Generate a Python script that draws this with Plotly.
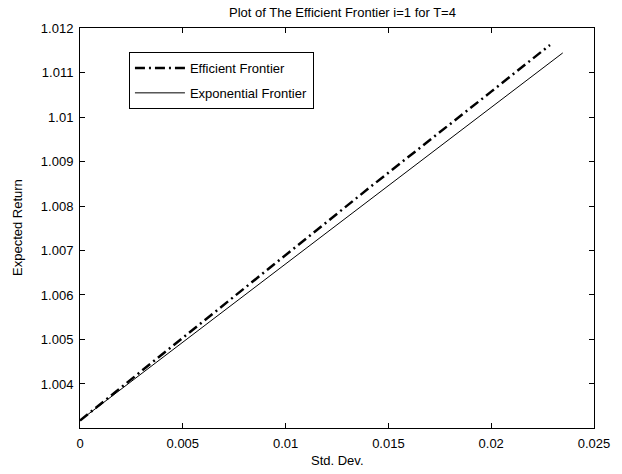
import plotly.graph_objects as go

# Data
eff_x = [0.0, 0.005, 0.0095, 0.0141, 0.020, 0.02286]
eff_y = [1.00318, 1.00504, 1.00671, 1.00842, 1.01057, 1.01162]
exp_x = [0.0, 0.005, 0.0095, 0.0143, 0.020, 0.02348]
exp_y = [1.00318, 1.00494, 1.00652, 1.00821, 1.01021, 1.01144]

x_ticks = [0, 0.005, 0.01, 0.015, 0.02, 0.025]
x_tick_labels = ["0", "0.005", "0.01", "0.015", "0.02", "0.025"]
y_ticks = [1.004, 1.005, 1.006, 1.007, 1.008, 1.009, 1.01, 1.011, 1.012]
y_tick_labels = ["1.004", "1.005", "1.006", "1.007", "1.008", "1.009", "1.01", "1.011", "1.012"]

FONT = "Liberation Sans, Arial, Helvetica, sans-serif"
FS = 13

fig = go.Figure()
fig.add_trace(go.Scatter(
    x=eff_x, y=eff_y, mode="lines", name="Efficient Frontier", legendgroup="a",
    line=dict(color="black", width=2.5, dash="10px,4px,2px,4px"),
))
fig.add_trace(go.Scatter(
    x=exp_x, y=exp_y, mode="lines", name="Exponential Frontier", legendgroup="b",
    line=dict(color="black", width=1),
))

axis_common = dict(
    showline=True, linecolor="black", linewidth=1, mirror="ticks",
    ticks="inside", ticklen=5, tickcolor="black", tickwidth=1,
    showgrid=False, zeroline=False, ticklabelstandoff=3,
    tickfont=dict(family=FONT, size=FS, color="black"),
)

fig.update_layout(
    width=622, height=474,
    margin=dict(l=80, r=17, t=28, b=46),
    paper_bgcolor="white", plot_bgcolor="white",
    font=dict(family=FONT, size=FS, color="black"),
    title=dict(
        text="Plot of The Efficient Frontier i=1 for T=4",
        x=(80 + 605) / 2 / 622, xanchor="center",
        y=1 - 12 / 474, yanchor="middle", yref="container",
        font=dict(family=FONT, size=FS, color="black"),
    ),
    xaxis=dict(range=[0, 0.025], tickvals=x_ticks, ticktext=x_tick_labels, **axis_common),
    yaxis=dict(range=[1.003011, 1.012], tickvals=y_ticks, ticktext=y_tick_labels, **axis_common),
    legend=dict(
        x=(130 - 80) / 525, y=1 - (52 - 28) / 400, xanchor="left", yanchor="top",
        bgcolor="white", bordercolor="black", borderwidth=1,
        font=dict(family=FONT, size=FS, color="black"),
        tracegroupgap=5, itemwidth=50,
    ),
    annotations=[
        dict(text="Std. Dev.", xref="paper", yref="paper", x=0.5, y=0,
             xanchor="center", yanchor="middle", yshift=-(460 - 428), showarrow=False,
             font=dict(family=FONT, size=FS, color="black")),
        dict(text="Expected Return", xref="paper", yref="paper", x=0, y=0.5,
             xanchor="center", yanchor="middle", xshift=-(80 - 17), textangle=-90,
             showarrow=False, font=dict(family=FONT, size=FS, color="black")),
    ],
    showlegend=True,
)

fig.write_html("out.html", config={"displayModeBar": False},
               post_script="document.body.style.margin='0';")
